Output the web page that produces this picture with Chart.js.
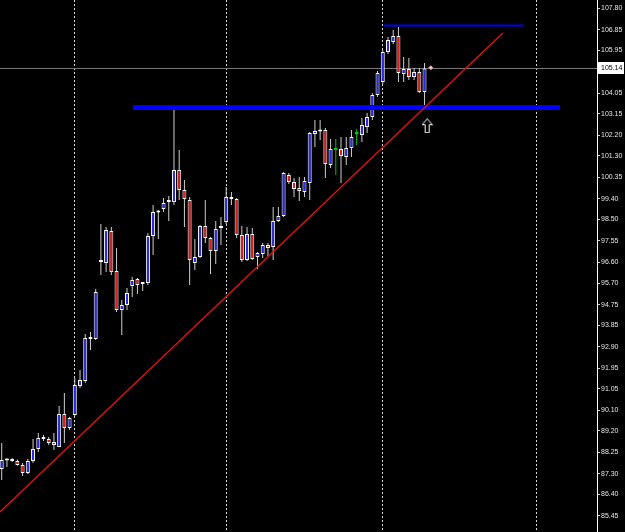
<!DOCTYPE html>
<html>
<head>
<meta charset="utf-8">
<script src="https://cdn.jsdelivr.net/npm/chart.js@4.4.0/dist/chart.umd.min.js"></script>
<style>
    body { margin: 0; background: #000; }
    canvas { display: block; }
</style>
</head>
<body>
<canvas id="priceChart" width="625" height="532"></canvas>
<script>
// H4 candles (index = bar number from the left)
const opens = [87.52, 87.89, 87.91, 87.87, 87.69, 87.34, 87.87, 88.40, 88.92, 88.84,
    88.70, 88.48, 89.94, 89.32, 89.89, 91.17, 91.39, 93.32, 93.24, 96.62,
    96.58, 97.99, 96.23, 94.51, 94.73, 95.57, 95.88, 95.66, 95.70, 97.77,
    98.82, 98.96, 99.26, 99.26, 100.67, 99.79, 99.35, 96.58, 96.84, 98.21,
    97.68, 97.11, 98.12, 98.38, 99.48, 99.40, 97.81, 96.71, 97.86, 96.84,
    96.98, 97.37, 97.28, 98.43, 98.65, 100.45, 100.14, 99.88, 99.70, 100.10,
    102.26, 102.39, 102.43, 100.89, 101.55, 101.60, 101.24, 101.64, 102.26, 102.21,
    102.56, 103.00, 103.97, 104.54, 105.86, 106.30, 106.57, 104.90, 105.12, 104.76,
    104.98, 104.10];
const highs = [88.66, 88.00, 88.00, 87.93, 87.78, 87.96, 88.84, 89.10, 89.01, 88.92,
    89.10, 90.29, 90.86, 89.80, 91.52, 91.87, 93.46, 93.54, 95.44, 98.30,
    98.16, 98.16, 97.24, 94.95, 95.48, 95.96, 95.92, 95.74, 97.90, 99.13,
    98.91, 99.44, 99.53, 103.31, 101.55, 100.23, 99.48, 97.64, 98.25, 99.35,
    97.72, 98.43, 98.60, 99.92, 99.70, 99.44, 98.21, 98.16, 98.12, 97.06,
    97.46, 97.46, 99.04, 99.04, 100.58, 100.54, 100.32, 100.36, 100.36, 102.34,
    102.87, 102.87, 102.52, 102.04, 102.04, 102.12, 102.12, 102.43, 102.48, 102.96,
    103.18, 104.06, 105.03, 105.95, 106.52, 106.83, 106.96, 105.64, 105.60, 105.16,
    105.16, 105.38];
const lows = [87.03, 87.60, 87.82, 87.66, 87.21, 87.30, 87.78, 88.26, 88.75, 88.57,
    88.35, 88.48, 88.66, 89.23, 89.85, 91.08, 91.30, 92.75, 93.19, 96.05,
    96.18, 96.05, 94.42, 93.41, 94.51, 95.08, 95.22, 95.35, 95.61, 96.93,
    97.64, 98.82, 98.43, 99.13, 99.35, 98.16, 95.61, 96.27, 96.80, 97.46,
    96.10, 96.54, 97.37, 98.30, 99.13, 97.68, 96.62, 96.67, 96.71, 96.32,
    96.80, 96.89, 96.71, 98.38, 98.60, 100.06, 99.48, 99.31, 99.48, 99.35,
    101.68, 101.99, 100.32, 100.76, 100.45, 100.10, 100.89, 101.24, 101.77, 101.90,
    102.30, 102.87, 103.88, 104.46, 105.78, 106.22, 104.54, 104.54, 104.63, 104.63,
    104.06, 103.40];
const closes = [87.91, 87.92, 87.87, 87.69, 87.34, 87.87, 88.40, 88.88, 88.84, 88.66,
    88.57, 89.94, 89.32, 89.76, 91.21, 91.43, 93.28, 93.24, 95.30, 96.64,
    98.03, 96.18, 94.51, 94.73, 95.26, 95.83, 95.61, 95.68, 97.77, 98.82,
    98.80, 99.22, 99.28, 100.67, 99.79, 99.40, 96.71, 96.84, 98.21, 97.68,
    97.11, 98.08, 98.14, 99.48, 99.40, 97.81, 96.71, 97.86, 96.76, 97.02,
    97.37, 97.24, 98.43, 98.65, 100.54, 100.14, 99.84, 99.75, 100.19, 102.30,
    102.39, 102.37, 100.94, 101.60, 101.55, 101.29, 101.64, 102.12, 102.26, 102.65,
    103.00, 103.97, 104.94, 105.86, 106.39, 106.57, 104.94, 105.12, 104.76, 104.98,
    104.10, 105.14];

// price axis labels
const priceTicks = [107.80, 106.85, 105.95, 105.00, 104.05, 103.15, 102.20, 101.30, 100.35,
    99.40, 98.50, 97.55, 96.60, 95.70, 94.75, 93.85, 92.90, 91.95, 91.05, 90.10,
    89.20, 88.25, 87.30, 86.40, 85.45];
// bars where the vertical (period) separators sit
const separatorBars = [14, 43, 73, 102.4];

// drawn objects: trend line, support level, top level, arrow
const trendX = [-0.33, 96.0];
const trendY = [85.62, 106.70];
const supportX = [25.15, 106.95];
const supportY = [103.42, 103.42];
const topX = [73.2, 99.9];
const topY = [107.03, 107.03];
const arrowX = [81.5];
const arrowY = [102.62];
const bidX = [82.2];
const bidY = [105.17];

const xMin = -0.33;
const xMax = 114.04;
const lastPrice = closes[closes.length - 1];

var bullColor = '#2a2ae0';
var bearColor = '#d81c1c';
var dojiColor = '#10c010';

function bodyColor(i) {
    if (closes[i] > opens[i]) return bullColor;
    if (closes[i] < opens[i]) return bearColor;
    return dojiColor;
}

// hollow up arrow used as a point style
var arrowImg = document.createElement('canvas');
arrowImg.width = 11;
arrowImg.height = 15;
var actx = arrowImg.getContext('2d');
actx.beginPath();
actx.moveTo(5.5, 0.5);
actx.lineTo(10.5, 6.5);
actx.lineTo(7.5, 6.5);
actx.lineTo(7.5, 14.5);
actx.lineTo(3.5, 14.5);
actx.lineTo(3.5, 6.5);
actx.lineTo(0.5, 6.5);
actx.closePath();
actx.fillStyle = '#000';
actx.fill();
actx.strokeStyle = '#fff';
actx.lineWidth = 1;
actx.stroke();

// current price box on the price axis
const priceBox = {
    id: 'priceBox',
    afterDraw(chart) {
        var y = chart.scales.y.getPixelForValue(lastPrice);
        var ctx = chart.ctx;
        var left = chart.scales.y.left + 1;
        ctx.save();
        ctx.fillStyle = '#fff';
        ctx.fillRect(left, Math.round(y) - 6, 26, 12);
        ctx.fillStyle = '#000';
        ctx.font = '7px "Liberation Sans"';
        ctx.textBaseline = 'middle';
        ctx.fillText(lastPrice.toFixed(2), left + 3, Math.round(y) + 0.5);
        ctx.restore();
    }
};

const chartItem = document.getElementById('priceChart');
const priceChart = new Chart(chartItem, {
    type: 'bar',
    data: {
        datasets: [
            {
                type: 'line',
                label: 'Bid',
                data: [{x: xMin, y: lastPrice}, {x: xMax, y: lastPrice}],
                borderColor: '#7a7a7a',
                borderWidth: 1,
                pointRadius: 0,
                order: 9
            },
            {
                label: 'Wicks',
                data: opens.map((o, i) => ({x: i, y: [lows[i], highs[i]]})),
                backgroundColor: opens.map((o, i) => opens[i] === closes[i] ? dojiColor : '#cfcfcf'),
                barThickness: 1,
                grouped: false,
                inflateAmount: 0,
                order: 8
            },
            {
                label: 'Bodies',
                data: opens.map((o, i) => ({x: i, y: [o, closes[i]]})),
                backgroundColor: opens.map((o, i) => bodyColor(i)),
                borderColor: opens.map((o, i) => opens[i] === closes[i] ? dojiColor : '#ffffff'),
                borderWidth: 1,
                borderSkipped: false,
                barThickness: 4,
                minBarLength: 2,
                grouped: false,
                inflateAmount: 0,
                order: 7
            },
            {
                type: 'line',
                label: 'Support',
                data: supportX.map((x, i) => ({x: x, y: supportY[i]})),
                borderColor: '#0000ff',
                borderWidth: 5,
                pointRadius: 0,
                order: 3
            },
            {
                type: 'line',
                label: 'Top',
                data: topX.map((x, i) => ({x: x, y: topY[i]})),
                borderColor: '#0000ee',
                borderWidth: 2,
                pointRadius: 0,
                order: 3
            },
            {
                type: 'line',
                label: 'Trend',
                data: trendX.map((x, i) => ({x: x, y: trendY[i]})),
                borderColor: '#e01010',
                borderWidth: 1.4,
                pointRadius: 0,
                order: 2
            },
            {
                type: 'line',
                label: 'Arrow',
                data: arrowX.map((x, i) => ({x: x, y: arrowY[i]})),
                showLine: false,
                pointStyle: arrowImg,
                order: 1
            },
            {
                type: 'line',
                label: 'Marker',
                data: bidX.map((x, i) => ({x: x, y: bidY[i]})),
                showLine: false,
                pointStyle: 'rectRot',
                pointRadius: 2,
                backgroundColor: '#ffd0d0',
                borderColor: '#ff9090',
                borderWidth: 1,
                order: 1
            }
        ]
    },
    options: {
        responsive: false,
        animation: false,
        devicePixelRatio: 1,
        layout: {padding: 0, autoPadding: false},
        plugins: {
            legend: {display: false},
            tooltip: {enabled: false}
        },
        scales: {
            x: {
                type: 'linear',
                min: xMin,
                max: xMax,
                offset: false,
                afterBuildTicks: (scale) => {
                    scale.ticks = separatorBars.map(v => ({value: v}));
                },
                afterFit: (scale) => {
                    scale.height = 0;
                },
                ticks: {display: false},
                grid: {
                    color: '#d8d8d8',
                    lineWidth: 1,
                    drawTicks: false,
                    offset: false
                },
                border: {display: false, dash: [2, 2]}
            },
            y: {
                position: 'right',
                min: 84.744,
                max: 108.152,
                afterBuildTicks: (scale) => {
                    scale.ticks = priceTicks.map(v => ({value: v}));
                },
                afterFit: (scale) => {
                    scale.width = 28;
                    scale.paddingTop = 0;
                    scale.paddingBottom = 0;
                },
                ticks: {
                    color: '#e6e6e6',
                    padding: 1,
                    font: {family: 'Liberation Sans', size: 7},
                    callback: (v) => Number(v).toFixed(2)
                },
                grid: {
                    drawOnChartArea: false,
                    tickLength: 3,
                    color: '#d0d0d0'
                },
                border: {display: true, color: '#ffffff', width: 1}
            }
        }
    },
    plugins: [priceBox]
});
</script>
</body>
</html>
